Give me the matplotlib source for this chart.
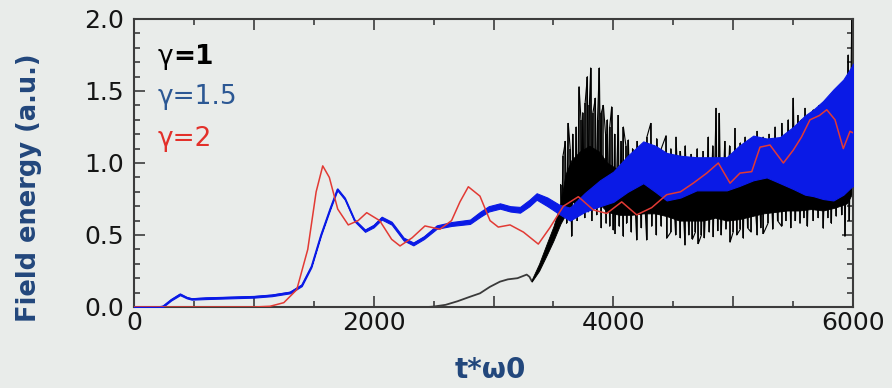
import matplotlib
matplotlib.use("Agg")
import matplotlib.pyplot as plt
from matplotlib.ticker import MultipleLocator, FuncFormatter
import numpy as np

plt.rcParams['font.family'] = ['DejaVu Sans']

# ---------------- data ----------------
# gamma = 2 (red)
red_t = [0, 1000, 1135, 1250, 1358, 1450, 1520, 1575, 1630, 1700, 1788, 1870, 1942,
         2050, 2150, 2220, 2320, 2428, 2553, 2650, 2720, 2790, 2887, 2971, 3040, 3138,
         3250, 3374, 3470, 3583, 3708, 3833, 3945, 4070, 4195, 4320, 4445, 4560, 4667,
         4780, 4876, 4974, 5057, 5155, 5224, 5307, 5419, 5502, 5570, 5641, 5720, 5781,
         5850, 5919, 5975, 6000]
red_v = [0, 0, 0.005, 0.03, 0.12, 0.40, 0.80, 0.98, 0.90, 0.68, 0.57, 0.60, 0.655,
         0.60, 0.47, 0.424, 0.48, 0.563, 0.54, 0.60, 0.73, 0.835, 0.77, 0.60, 0.555, 0.57,
         0.52, 0.437, 0.55, 0.70, 0.766, 0.674, 0.65, 0.73, 0.64, 0.69, 0.78, 0.80, 0.86,
         0.93, 1.00, 0.86, 0.93, 0.94, 1.11, 1.125, 1.00, 1.09, 1.18, 1.30, 1.33, 1.37,
         1.30, 1.10, 1.22, 1.21]

# gamma = 1.5 (blue): lower / upper edge of the oscillating band
blue_t = [0, 200, 242, 310, 384, 440, 481, 600, 800, 1000, 1150, 1302, 1400, 1480,
          1560, 1636, 1697, 1760, 1840, 1928, 2000, 2067, 2150, 2250, 2331, 2420, 2526,
          2650, 2804, 2887, 2960, 3054, 3140, 3221, 3300, 3360, 3450, 3550, 3638, 3760,
          3889, 4000, 4120, 4250, 4350, 4445, 4560, 4695, 4800, 4946, 5050, 5168, 5280,
          5391, 5500, 5600, 5669, 5750, 5836, 5920, 5989, 6000]
blue_lo = [0, 0, 0.0, 0.045, 0.082, 0.06, 0.051, 0.055, 0.06, 0.065, 0.075, 0.095,
           0.145, 0.275, 0.495, 0.675, 0.81, 0.745, 0.595, 0.522, 0.553, 0.607, 0.572,
           0.462, 0.428, 0.472, 0.543, 0.563, 0.577, 0.625, 0.663, 0.683, 0.663, 0.655,
           0.70, 0.745, 0.70, 0.645, 0.60, 0.66, 0.70, 0.73, 0.80, 0.86, 0.80, 0.74,
           0.76, 0.81, 0.81, 0.81, 0.84, 0.88, 0.90, 0.86, 0.82, 0.78, 0.77, 0.75, 0.74,
           0.78, 0.835, 0.84]
blue_hi = [0, 0, 0.01, 0.055, 0.094, 0.07, 0.061, 0.067, 0.072, 0.077, 0.087, 0.107,
           0.157, 0.287, 0.507, 0.687, 0.824, 0.759, 0.609, 0.538, 0.571, 0.627, 0.592,
           0.482, 0.448, 0.492, 0.567, 0.59, 0.607, 0.66, 0.70, 0.72, 0.70, 0.695,
           0.745, 0.79, 0.76, 0.71, 0.69, 0.79, 0.88, 0.94, 1.05, 1.15, 1.12, 1.07,
           1.05, 1.04, 1.04, 1.04, 1.12, 1.19, 1.17, 1.18, 1.25, 1.33, 1.37, 1.43, 1.51,
           1.58, 1.67, 1.69]

# gamma = 1 (black): smooth start, then dense oscillating core plus spikes
black_t = [0, 2450, 2500, 2600, 2700, 2800, 2887, 2970, 3054, 3120, 3200, 3277, 3300, 3319]
black_v = [0, 0, 0.003, 0.015, 0.04, 0.07, 0.095, 0.14, 0.176, 0.192, 0.20, 0.225, 0.21, 0.18]

core_t = [3319, 3380, 3444, 3500, 3560, 3600, 3650, 3720, 3800, 3880, 3950, 4050, 4150,
          4250, 4350, 4450, 4550, 4650, 4750, 4850, 4950, 5050, 5150, 5250, 5350, 5450,
          5550, 5650, 5750, 5850, 5950, 6000]
core_lo = [0.176, 0.25, 0.36, 0.46, 0.58, 0.64, 0.72, 0.76, 0.74, 0.72, 0.66, 0.64, 0.64,
           0.65, 0.65, 0.63, 0.60, 0.60, 0.60, 0.62, 0.60, 0.61, 0.63, 0.65, 0.66, 0.67,
           0.67, 0.68, 0.67, 0.69, 0.72, 0.80]
core_hi = [0.19, 0.30, 0.44, 0.56, 0.72, 0.92, 1.02, 1.08, 1.12, 1.08, 1.00, 0.95, 1.00,
           1.05, 1.03, 1.00, 0.98, 0.98, 0.98, 1.02, 1.02, 1.05, 1.10, 1.10, 1.10, 1.15,
           1.20, 1.25, 1.30, 1.35, 1.50, 1.70]

spike_up_t = [3560, 3580, 3600, 3624, 3640, 3660, 3690, 3714, 3730, 3745, 3765, 3783,
              3800, 3811, 3830, 3850, 3868, 3883, 3900, 3917, 3935, 3950, 3970, 3986,
              4010, 4042, 4065, 4084, 4105, 4125, 4160, 4200, 4240, 4280, 4312, 4340,
              4362, 4400, 4440, 4480, 4523, 4560, 4600, 4650, 4700, 4750, 4793, 4830,
              4857, 4885, 4930, 4970, 5015, 5060, 5100, 5150, 5200, 5250, 5300, 5350,
              5405, 5460, 5502, 5540, 5570, 5600, 5640, 5669, 5720, 5750, 5780, 5810,
              5836, 5880, 5920, 5960, 5990]
spike_up_v = [0.85, 1.05, 1.15, 1.275, 1.10, 1.20, 1.25, 1.53, 1.30, 1.35, 1.42, 1.60,
              1.40, 1.66, 1.35, 1.45, 1.30, 1.66, 1.35, 1.40, 1.20, 1.30, 1.25, 1.39,
              1.20, 1.33, 1.15, 1.25, 1.12, 1.16, 1.10, 1.15, 1.12, 1.18, 1.275, 1.12,
              1.17, 1.10, 1.19, 1.10, 1.18, 1.08, 1.12, 1.06, 1.10, 1.08, 1.18, 1.12,
              1.38, 1.345, 1.15, 1.12, 1.24, 1.14, 1.18, 1.15, 1.22, 1.18, 1.20, 1.25,
              1.275, 1.30, 1.45, 1.33, 1.30, 1.38, 1.32, 1.37, 1.40, 1.35, 1.42, 1.40,
              1.46, 1.45, 1.55, 1.75, 2.05]
spike_dn_t = [3570, 3610, 3652, 3680, 3700, 3735, 3760, 3790, 3820, 3860, 3900, 3940,
              3970, 4000, 4014, 4050, 4084, 4110, 4150, 4195, 4235, 4278, 4320, 4360,
              4400, 4445, 4480, 4520, 4560, 4598, 4630, 4660, 4685, 4709, 4735, 4760,
              4800, 4834, 4870, 4900, 4940, 4974, 5000, 5030, 5060, 5085, 5120, 5150,
              5200, 5230, 5252, 5290, 5330, 5370, 5405, 5440, 5480, 5520, 5558, 5590,
              5620, 5669, 5710, 5752, 5790, 5820, 5860, 5905, 5933, 5970]
spike_dn_v = [0.62, 0.58, 0.49, 0.62, 0.60, 0.66, 0.62, 0.66, 0.60, 0.64, 0.55, 0.58,
              0.56, 0.535, 0.51, 0.56, 0.49, 0.58, 0.52, 0.465, 0.55, 0.465, 0.56, 0.50,
              0.56, 0.477, 0.52, 0.50, 0.48, 0.43, 0.50, 0.47, 0.52, 0.44, 0.50, 0.48,
              0.52, 0.488, 0.53, 0.50, 0.54, 0.45, 0.52, 0.50, 0.54, 0.477, 0.55, 0.52,
              0.50, 0.55, 0.51, 0.58, 0.54, 0.60, 0.56, 0.60, 0.55, 0.60, 0.58, 0.62,
              0.56, 0.60, 0.62, 0.546, 0.62, 0.58, 0.63, 0.64, 0.49, 0.60]

legend_labels = ["\u03b3", "=1", "\u03b3=1.5", "\u03b3=2"]
x_ticks = [0, 2000, 4000, 6000]

# ---------------- figure ----------------
bg = '#e9ecea'
fig = plt.figure(figsize=(8.92, 3.88), dpi=100, facecolor=bg)
ax = fig.add_axes([134/892, 81/388, 719/892, 288/388], facecolor=bg)

# black (gamma=1)
ax.plot(black_t, black_v, color='#3a3a3a', lw=1.3, zorder=2)
ax.fill_between(core_t, core_lo, core_hi, color='black', lw=0.6, zorder=2)
zz = sorted(list(zip(spike_up_t, spike_up_v)) + list(zip(spike_dn_t, spike_dn_v)))
ax.plot([p[0] for p in zz], [p[1] for p in zz], color='black', lw=0.8, zorder=2)
up_base = np.interp(spike_up_t, core_t, core_hi) - 0.1
dn_base = np.interp(spike_dn_t, core_t, core_lo) + 0.1
ax.vlines(spike_up_t, up_base, spike_up_v, color='black', lw=1.1, zorder=2)
ax.vlines(spike_dn_t, spike_dn_v, dn_base, color='black', lw=1.1, zorder=2)

# blue (gamma=1.5)
blue_c = '#0a1ae6'
ax.fill_between(blue_t, blue_lo, blue_hi, color=blue_c, lw=0.8, edgecolor=blue_c, zorder=3)
ax.plot(blue_t, (np.array(blue_lo) + np.array(blue_hi)) / 2, color=blue_c, lw=1.0, zorder=3)

# red (gamma=2)
ax.plot(red_t, red_v, color='#e23a34', lw=1.1, zorder=4)

ax.set_xlim(0, 6000)
ax.set_ylim(0, 2.0)

ax.xaxis.set_major_locator(MultipleLocator(1000))
ax.xaxis.set_minor_locator(MultipleLocator(500))
ax.xaxis.set_major_formatter(FuncFormatter(lambda v, p: f"{int(v)}" if int(round(v)) in x_ticks else ""))
ax.yaxis.set_major_locator(MultipleLocator(0.5))
ax.yaxis.set_minor_locator(MultipleLocator(0.1))
ax.yaxis.set_major_formatter(FuncFormatter(lambda v, p: f"{v:.1f}"))

ax.tick_params(which='both', direction='in', top=True, right=True, color='#3c3c3c',
               labelsize=18, labelcolor='#151515', width=1.2)
ax.tick_params(which='major', length=8)
ax.tick_params(which='minor', length=4)
ax.tick_params(axis='x', which='major', pad=3)
ax.tick_params(axis='y', which='major', pad=7)
for s in ax.spines.values():
    s.set_color('#3c3c3c')
    s.set_linewidth(1.5)

label_c = '#22477c'
ax.set_ylabel("Field energy (a.u.)", fontsize=18.5, color=label_c, fontweight='bold')
ax.yaxis.set_label_coords(-0.146, 0.415)
ax.yaxis.label.set_va('center')
ax.set_xlabel("t*\u03c90", fontsize=20, color=label_c, fontweight='bold')
ax.xaxis.set_label_coords(0.495, -0.219)
ax.xaxis.label.set_va('center')

# legend texts
t1 = ax.text(0.033, 0.868, legend_labels[0], transform=ax.transAxes, fontsize=19,
             color='black', va='center', ha='left')
ax.annotate(legend_labels[1], xy=(1, 0), xycoords=t1, va='bottom', ha='left',
            fontsize=19, color='black', fontweight='bold')
ax.text(0.033, 0.729, legend_labels[2], transform=ax.transAxes, fontsize=19,
        color='#2c5894', va='center', ha='left')
ax.text(0.033, 0.585, legend_labels[3], transform=ax.transAxes, fontsize=19,
        color='#e3302a', va='center', ha='left')

fig.savefig("out.png", dpi=100, facecolor=bg)
